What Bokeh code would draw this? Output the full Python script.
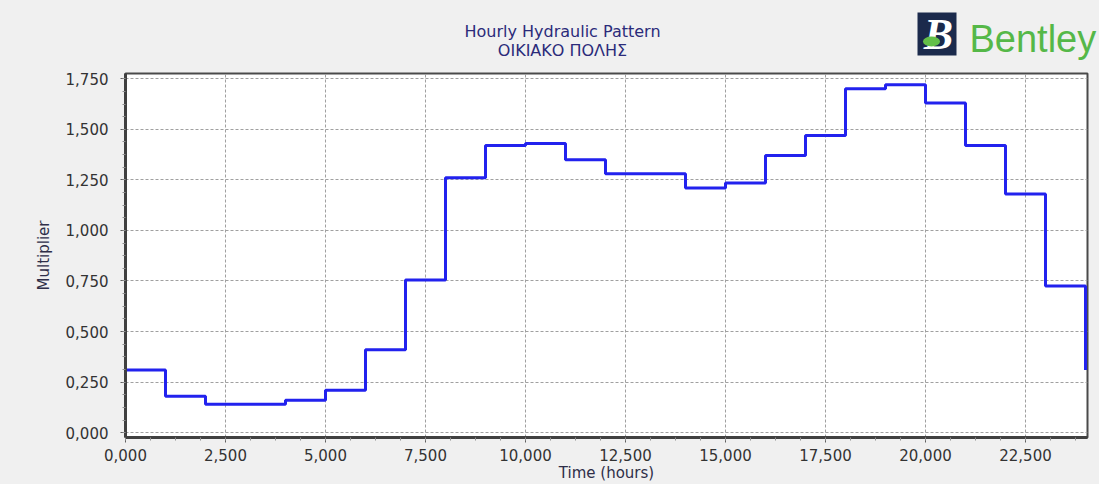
from bokeh.plotting import figure
from bokeh.layouts import column
from bokeh.models import FixedTicker, CustomJSTickFormatter, Range1d
from bokeh.core.properties import value
from bokeh.embed import file_html
from bokeh.resources import INLINE

# ---- data ----
hours = list(range(25))
multipliers = [0.31, 0.18, 0.14, 0.14, 0.16, 0.21, 0.41, 0.755, 1.26, 1.42,
               1.43, 1.35, 1.28, 1.28, 1.21, 1.235, 1.37, 1.47, 1.70, 1.72,
               1.63, 1.42, 1.18, 0.725, 0.31]
x_ticks = [0, 2.5, 5, 7.5, 10, 12.5, 15, 17.5, 20, 22.5]
y_ticks = [0, 0.25, 0.5, 0.75, 1.0, 1.25, 1.5, 1.75]
title_lines = ["Hourly Hydraulic Pattern", "ΟΙΚΙΑΚΟ ΠΟΛΗΣ"]
logo_text = "Bentley"
x_label = "Time (hours)"
y_label = "Multiplier"

FONT = "DejaVu Sans"
BG = "#f0f0f0"
W = 1099
HEAD_H = 66
LEFT, RIGHT = 125, 12

# ---- header (titles + logo), not aligned with the chart frame ----
h = figure(width=W, height=HEAD_H, output_backend="svg", toolbar_location=None,
           title=None, x_range=Range1d(0, W), y_range=Range1d(0, HEAD_H),
           min_border=0, x_axis_type=None, y_axis_type=None)
h.frame_align = False
h.grid.visible = False
h.outline_line_color = None
h.background_fill_color = BG
h.border_fill_color = BG
h.text(x=[562, 562], y=[35, 16], text=title_lines, text_align="center",
       text_baseline="alphabetic", text_font=value(FONT), text_font_size="16px",
       text_color="#2b2b7a")
# logo icon
h.rect(x=[936.5], y=[32.5], width=39, height=43, fill_color="#1b2a4c", line_color=None)
h.text(x=[938], y=[32], text=["B"], text_align="center", text_baseline="middle",
       text_font=value("Liberation Serif"), text_font_size="44px",
       text_font_style="bold italic", text_color="white")
h.ellipse(x=[931], y=[25], width=17, height=10, fill_color="#63bf48", line_color=None)
h.text(x=[969], y=[28], text=[logo_text], text_align="left", text_baseline="alphabetic",
       text_font=value("Liberation Sans"), text_font_size="38px", text_color="#55b848")

# ---- main chart ----
p = figure(width=W, height=484 - HEAD_H, output_backend="svg", toolbar_location=None,
           title=None, x_range=Range1d(0, 24.05), y_range=Range1d(-0.024, 1.776),
           min_border_left=LEFT, min_border_right=RIGHT, min_border_top=7,
           min_border_bottom=46)
p.frame_align = False
p.border_fill_color = BG
p.background_fill_color = "white"
p.outline_line_color = "#4a4a4a"
p.outline_line_width = 2

p.step(hours, multipliers, mode="after", line_color="#2222ee", line_width=3)

minor_x = [i * 0.625 for i in range(39)]
minor_y = [i * 0.0625 for i in range(29)]
p.xaxis.ticker = FixedTicker(ticks=x_ticks, minor_ticks=minor_x)
p.yaxis.ticker = FixedTicker(ticks=y_ticks, minor_ticks=minor_y)
p.xaxis.formatter = CustomJSTickFormatter(code="return tick.toFixed(3).replace('.', ',');")
p.yaxis.formatter = CustomJSTickFormatter(code="return tick.toFixed(3).replace('.', ',');")

for ax in (p.xaxis[0], p.yaxis[0]):
    ax.axis_line_color = "#404040"
    ax.axis_line_width = 3
    ax.major_tick_line_color = "#606060"
    ax.minor_tick_line_color = "#909090"
    ax.major_tick_out = 5
    ax.major_tick_in = 0
    ax.minor_tick_out = 3
    ax.minor_tick_in = 0
    ax.major_label_text_font = FONT
    ax.major_label_text_font_size = "15px"
    ax.major_label_text_color = "#333333"
    ax.axis_label_text_font = FONT
    ax.axis_label_text_font_size = "15px"
    ax.axis_label_text_font_style = "normal"
    ax.axis_label_text_color = "#2e2e48"

p.xaxis.axis_label = x_label
p.yaxis.axis_label = y_label
p.xaxis.major_label_standoff = 6
p.xaxis.axis_label_standoff = 0
p.yaxis.major_label_standoff = 12
p.yaxis.axis_label_standoff = 10

p.grid.grid_line_color = "#a0a0a0"
p.grid.grid_line_dash = "3 2"
p.grid.grid_line_width = 1

layout = column(h, p, spacing=0, styles={"background-color": BG})
open("out.html", "w").write(file_html(layout, INLINE))
